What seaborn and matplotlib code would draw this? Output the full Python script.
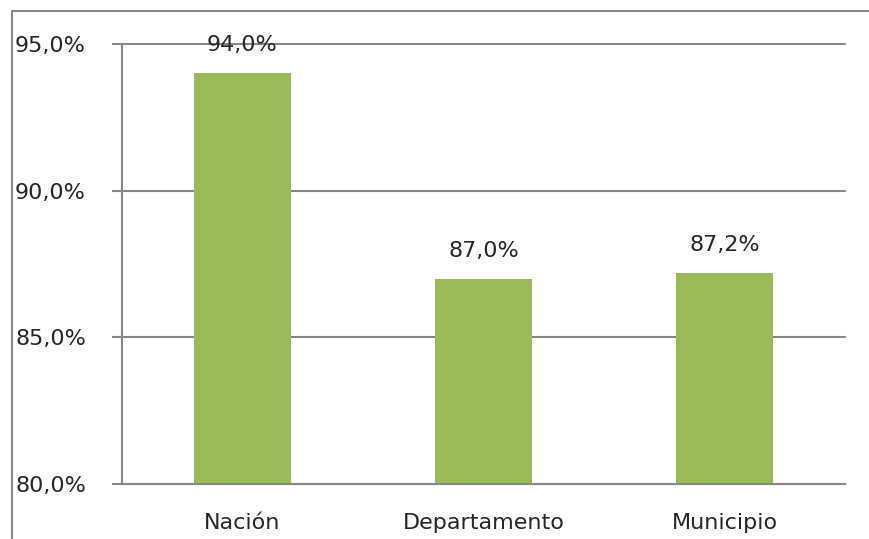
import pandas as pd
import seaborn as sns
import matplotlib.pyplot as plt
from matplotlib.lines import Line2D
from matplotlib.ticker import FuncFormatter, MultipleLocator

# Datos
categorias = ["Nación", "Departamento", "Municipio"]
valores = [94.0, 87.0, 87.2]

df = pd.DataFrame({"nivel": categorias, "pct": valores})

sns.set_style("white")
plt.rcParams["font.family"] = ["DejaVu Sans"]

txt = "#262626"
gris = "#878787"

fig = plt.figure(figsize=(8.7, 5.39), dpi=100)
ax = fig.add_axes([122 / 870, 1 - 484 / 539, (845 - 122) / 870, (484 - 44) / 539])

sns.barplot(data=df, x="nivel", y="pct", color="#9BBB59", saturation=1,
            width=0.4, ax=ax, edgecolor="none")

ax.set_ylim(80, 95)
ax.yaxis.set_major_locator(MultipleLocator(5))
ax.yaxis.set_major_formatter(FuncFormatter(lambda v, p: f"{v:.1f}%".replace(".", ",")))
ax.set_xlabel("")
ax.set_ylabel("")

ax.grid(axis="y", color=gris, linewidth=1.5)
ax.set_axisbelow(True)
for s in ["top", "right"]:
    ax.spines[s].set_visible(False)
for s in ["left", "bottom"]:
    ax.spines[s].set_color(gris)
    ax.spines[s].set_linewidth(1.5)

ax.tick_params(axis="y", left=True, direction="out", length=7, width=1.5,
               color=gris, labelsize=16, labelcolor=txt, pad=70)
for lbl in ax.get_yticklabels():
    lbl.set_horizontalalignment("left")
ax.tick_params(axis="x", bottom=False, length=0, labelsize=16, labelcolor=txt, pad=21)

# etiquetas de valor
for i, v in enumerate(valores):
    ax.annotate(f"{v:.1f}%".replace(".", ","), (i, v), xytext=(0, 13),
                textcoords="offset points", ha="center", va="bottom",
                fontsize=16, color=txt)

# que la línea de 95% no quede cortada
for gl in ax.get_ygridlines():
    gl.set_clip_on(False)

# borde exterior del gráfico
fig.add_artist(Line2D([12 / 870, 1], [1 - 11 / 539, 1 - 11 / 539], color=gris, linewidth=1.5))
fig.add_artist(Line2D([12 / 870, 12 / 870], [0, 1 - 11 / 539], color=gris, linewidth=1.5))

fig.savefig("out.png", dpi=100)
